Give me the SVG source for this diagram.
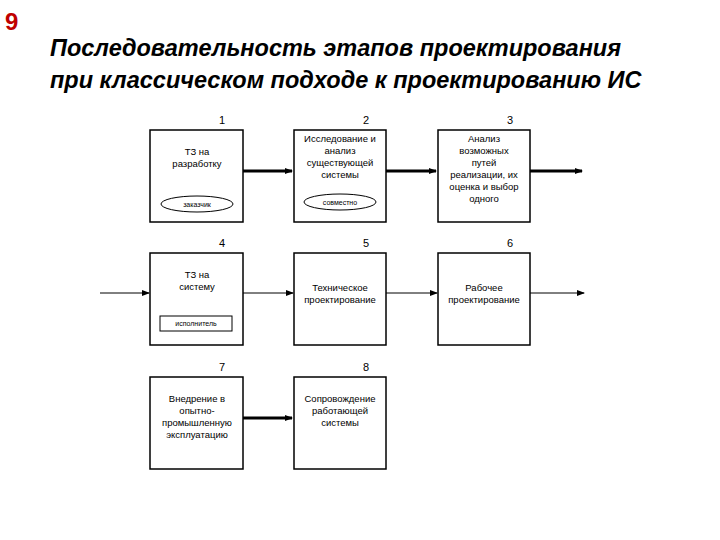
<svg xmlns="http://www.w3.org/2000/svg" width="720" height="540" viewBox="0 0 720 540">
<style>
.b{fill:#fff;stroke:#000;stroke-width:1.5}
.t{font-family:"Liberation Sans",Arial,sans-serif;font-size:9.5px;text-anchor:middle;fill:#000}
.n{font-family:"Liberation Sans",Arial,sans-serif;font-size:11px;text-anchor:middle;fill:#000}
.s{font-family:"Liberation Sans",Arial,sans-serif;font-size:7px;text-anchor:middle;fill:#000}
.h{font-family:"Liberation Sans",Arial,sans-serif;font-size:23.5px;font-weight:bold;font-style:italic;fill:#000}
.k{stroke:#000;stroke-width:3;fill:none}
.f{stroke:#000;stroke-width:1;fill:none}
</style>
<defs><marker id="a" markerWidth="8" markerHeight="6" refX="7" refY="3" orient="auto" markerUnits="userSpaceOnUse"><path d="M0,0 L8,3 L0,6 Z" fill="#000"/></marker></defs>
<text x="5" y="30" font-family="Liberation Sans,Arial,sans-serif" font-size="24" font-weight="bold" fill="#c00000">9</text>
<text class="h" x="50" y="56">Последовательность этапов проектирования</text>
<text class="h" x="50" y="88">при классическом подходе к проектированию ИС</text>
<g id="connectors">
<line class="k" x1="243" y1="171" x2="292" y2="171" marker-end="url(#a)"/>
<line class="k" x1="386" y1="171" x2="436" y2="171" marker-end="url(#a)"/>
<line class="k" x1="530" y1="171" x2="582" y2="171" marker-end="url(#a)"/>
<line class="f" x1="100" y1="293" x2="149" y2="293" marker-end="url(#a)"/>
<line class="f" x1="243" y1="293" x2="293" y2="293" marker-end="url(#a)"/>
<line class="f" x1="386" y1="293" x2="437" y2="293" marker-end="url(#a)"/>
<line class="f" x1="530" y1="293" x2="584" y2="293" marker-end="url(#a)"/>
<line class="k" x1="243" y1="418" x2="292" y2="418" marker-end="url(#a)"/>
</g>
<g id="n1"><rect class="b" x="150" y="130" width="93" height="92"/><text class="n" x="222" y="124">1</text>
<text class="t" x="197" y="155">ТЗ на</text><text class="t" x="197" y="167">разработку</text>
<ellipse cx="197" cy="204" rx="36" ry="8" fill="#fff" stroke="#000"/><text class="s" x="197" y="207">заказчик</text></g>
<g id="n2"><rect class="b" x="294" y="130" width="92" height="92"/><text class="n" x="366" y="124">2</text>
<text class="t" x="340" y="142">Исследование и</text><text class="t" x="340" y="154">анализ</text><text class="t" x="340" y="166">существующей</text><text class="t" x="340" y="178">системы</text>
<ellipse cx="340" cy="202" rx="36" ry="8" fill="#fff" stroke="#000"/><text class="s" x="340" y="205">совместно</text></g>
<g id="n3"><rect class="b" x="438" y="130" width="92" height="92"/><text class="n" x="510" y="124">3</text>
<text class="t" x="484" y="142">Анализ</text><text class="t" x="484" y="154">возможных</text><text class="t" x="484" y="166">путей</text><text class="t" x="484" y="178">реализации, их</text><text class="t" x="484" y="190">оценка и выбор</text><text class="t" x="484" y="202">одного</text></g>
<g id="n4"><rect class="b" x="150" y="253" width="93" height="92"/><text class="n" x="222" y="247">4</text>
<text class="t" x="197" y="278">ТЗ на</text><text class="t" x="197" y="290">систему</text>
<rect x="160" y="316" width="72" height="15" fill="#fff" stroke="#000"/><text class="s" x="196" y="326">исполнитель</text></g>
<g id="n5"><rect class="b" x="294" y="253" width="92" height="92"/><text class="n" x="366" y="247">5</text>
<text class="t" x="340" y="291">Техническое</text><text class="t" x="340" y="303">проектирование</text></g>
<g id="n6"><rect class="b" x="438" y="253" width="92" height="92"/><text class="n" x="510" y="247">6</text>
<text class="t" x="484" y="291">Рабочее</text><text class="t" x="484" y="303">проектирование</text></g>
<g id="n7"><rect class="b" x="150" y="377" width="93" height="92"/><text class="n" x="222" y="371">7</text>
<text class="t" x="197" y="402">Внедрение в</text><text class="t" x="197" y="414">опытно-</text><text class="t" x="197" y="426">промышленную</text><text class="t" x="197" y="438">эксплуатацию</text></g>
<g id="n8"><rect class="b" x="294" y="377" width="92" height="92"/><text class="n" x="366" y="371">8</text>
<text class="t" x="340" y="402">Сопровождение</text><text class="t" x="340" y="414">работающей</text><text class="t" x="340" y="426">системы</text></g>
</svg>
